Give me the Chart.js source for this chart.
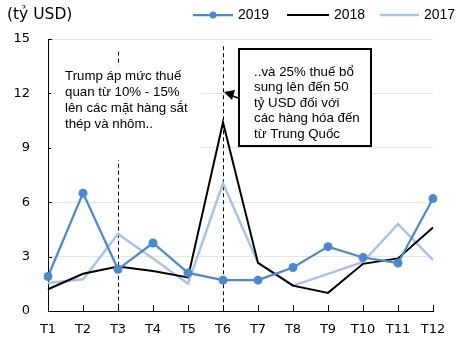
<!DOCTYPE html>
<html lang="vi">
<head>
  <meta charset="UTF-8">
  <title>Thương mại theo tháng</title>
  <script src="https://cdn.jsdelivr.net/npm/chart.js"></script>
  <style>
    html, body { margin: 0; padding: 0; background: #fff; }
  </style>
</head>
<body>
  <canvas id="tradeChart" width="468" height="342"></canvas>

  <script>
    // Data (tỷ USD)
    const months = ['T1', 'T2', 'T3', 'T4', 'T5', 'T6', 'T7', 'T8', 'T9', 'T10', 'T11', 'T12'];
    const yTicks = [0, 3, 6, 9, 12, 15];
    const data2019 = [1.9, 6.5, 2.3, 3.75, 2.1, 1.7, 1.7, 2.4, 3.55, 2.95, 2.65, 6.2];
    const data2018 = [1.2, 2.05, 2.45, 2.2, 1.85, 10.4, 2.65, 1.4, 1.0, 2.6, 2.9, 4.6];
    const data2017 = [1.55, 1.75, 4.25, 2.9, 1.5, 7.05, 2.65, 1.4, 2.05, 2.7, 4.8, 2.8];

    const note1 = ['Trump áp mức thuế', 'quan từ 10% - 15%', 'lên các mặt hàng sắt', 'thép và nhôm..'];
    const note2 = ['..và 25% thuế bổ', 'sung lên đến 50', 'tỷ USD đối với', 'các hàng hóa đến', 'từ Trung Quốc'];

    const BLUE = '#4a89cc';
    const LIGHT = '#a9c2e6';
    const FONT = "'Liberation Sans', Arial, sans-serif";
    const AXIS_FONT = "'DejaVu Sans', Tahoma, sans-serif";

    // dashed markers, note boxes, arrow
    const notes = {
      id: 'notes',
      beforeDatasetsDraw(chart) {
        const { ctx, scales: { x, y } } = chart;
        ctx.save();
        ctx.strokeStyle = '#000';
        ctx.lineWidth = 1;
        ctx.setLineDash([4, 3]);
        [['T3', 14.3], ['T6', 14.6]].forEach(([m, top]) => {
          const px = Math.round(x.getPixelForValue(months.indexOf(m))) + 0.5;
          ctx.beginPath();
          ctx.moveTo(px, y.getPixelForValue(top));
          ctx.lineTo(px, y.bottom);
          ctx.stroke();
        });
        ctx.setLineDash([]);

        // inward tick marks
        ctx.beginPath();
        months.forEach((m, i) => {
          const px = Math.round(x.getPixelForValue(i)) + 0.5;
          ctx.moveTo(px, y.bottom);
          ctx.lineTo(px, y.bottom - 6);
        });
        yTicks.forEach(v => {
          const py = Math.round(y.getPixelForValue(v)) + 0.5;
          ctx.moveTo(x.left, py);
          ctx.lineTo(x.left + 4, py);
        });
        ctx.stroke();

        ctx.font = '13.3px ' + FONT;
        ctx.textBaseline = 'middle';

        // note 1 (no border)
        ctx.fillStyle = '#fff';
        ctx.fillRect(51, 66, 150, 94);
        ctx.fillStyle = '#000';
        note1.forEach((t, i) => ctx.fillText(t, 65, 76 + i * 16));

        // note 2 (boxed)
        ctx.fillStyle = '#fff';
        ctx.fillRect(239, 49, 132, 97);
        ctx.lineWidth = 2;
        ctx.strokeRect(239, 49, 132, 97);
        ctx.fillStyle = '#000';
        note2.forEach((t, i) => ctx.fillText(t, 254, 72 + i * 15.5));

        // arrow from box to T6 line
        ctx.lineWidth = 1.5;
        ctx.beginPath();
        ctx.moveTo(238, 98);
        ctx.lineTo(230, 95);
        ctx.stroke();
        ctx.beginPath();
        ctx.moveTo(224, 92);
        ctx.lineTo(235, 90);
        ctx.lineTo(232, 100);
        ctx.closePath();
        ctx.fill();
        ctx.restore();
      },
      afterDraw(chart) {
        const { ctx } = chart;
        ctx.save();
        ctx.fillStyle = '#000';
        ctx.textBaseline = 'middle';
        ctx.font = '15.5px ' + AXIS_FONT;
        ctx.fillText('(tỷ USD)', 7, 15);

        // legend
        ctx.font = '14px ' + FONT;
        const items = [
          { label: '2019', color: BLUE, x0: 193, x1: 233, dot: true, width: 2.25 },
          { label: '2018', color: '#000', x0: 287, x1: 329, width: 2 },
          { label: '2017', color: LIGHT, x0: 380, x1: 419, width: 2.5 }
        ];
        items.forEach(it => {
          ctx.strokeStyle = it.color;
          ctx.lineWidth = it.width;
          ctx.beginPath();
          ctx.moveTo(it.x0, 15);
          ctx.lineTo(it.x1, 15);
          ctx.stroke();
          if (it.dot) {
            ctx.fillStyle = it.color;
            ctx.beginPath();
            ctx.arc((it.x0 + it.x1) / 2, 15, 3.5, 0, Math.PI * 2);
            ctx.fill();
          }
          ctx.fillStyle = '#000';
          ctx.fillText(it.label, it.x1 + 5, 15);
        });
        ctx.restore();
      }
    };

    new Chart(document.getElementById('tradeChart'), {
      type: 'line',
      data: {
        labels: months,
        datasets: [
          {
            label: '2017',
            data: data2017,
            borderColor: LIGHT,
            borderWidth: 2.5,
            pointRadius: 0,
            tension: 0,
            order: 3
          },
          {
            label: '2018',
            data: data2018,
            borderColor: '#000',
            borderWidth: 2,
            pointRadius: 0,
            tension: 0,
            order: 2
          },
          {
            label: '2019',
            data: data2019,
            borderColor: BLUE,
            backgroundColor: BLUE,
            borderWidth: 2.25,
            pointRadius: 4.5,
            pointBorderWidth: 0,
            tension: 0,
            order: 1
          }
        ]
      },
      options: {
        responsive: false,
        animation: false,
        layout: { padding: { top: 39, right: 35, left: 0, bottom: 0 } },
        plugins: {
          legend: { display: false },
          tooltip: { enabled: false }
        },
        scales: {
          x: {
            offset: false,
            grid: { display: false, drawTicks: false },
            border: { color: '#000', width: 1 },
            ticks: { color: '#000', font: { family: AXIS_FONT, size: 13 }, padding: 11, maxRotation: 0 },
            afterFit(scale) { scale.height = 31; }
          },
          y: {
            min: 0,
            max: 15,
            afterBuildTicks(scale) { scale.ticks = yTicks.map(v => ({ value: v })); },
            grid: { color: '#e6e6e6', drawTicks: false },
            border: { color: '#000', width: 1 },
            ticks: { color: '#000', font: { family: AXIS_FONT, size: 13 }, padding: 18 },
            afterFit(scale) { scale.width = 48; }
          }
        }
      },
      plugins: [notes]
    });
  </script>
</body>
</html>
